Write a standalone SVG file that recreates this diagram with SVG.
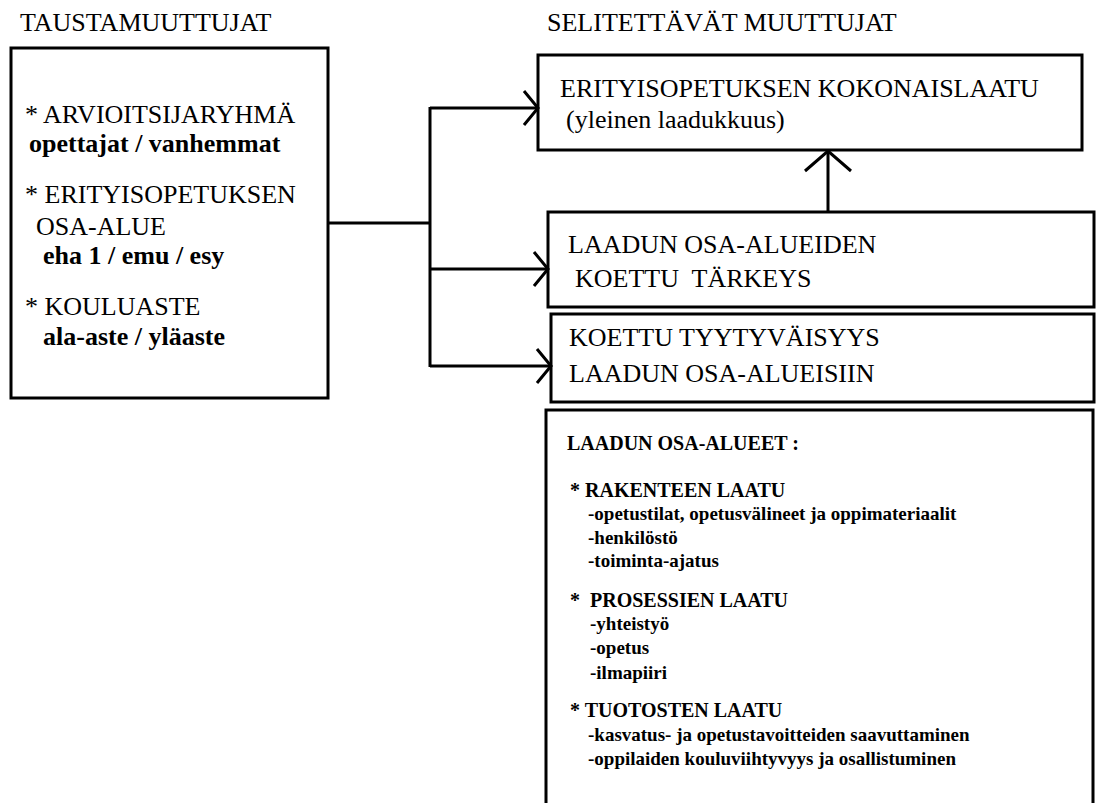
<svg xmlns="http://www.w3.org/2000/svg" width="1097" height="803" viewBox="0 0 1097 803">
  <defs>
    <marker id="vee" markerUnits="userSpaceOnUse" markerWidth="40" markerHeight="50" viewBox="-20 -25 40 50" refX="0" refY="0" orient="auto">
      <path d="M-14,-17 L0,0 L-14,17" fill="none" stroke="#000000" stroke-width="3"/>
    </marker>
    <marker id="vee-up" markerUnits="userSpaceOnUse" markerWidth="60" markerHeight="60" viewBox="-30 -30 60 60" refX="0" refY="0" orient="auto">
      <path d="M-20,-23 L0,0 L-20,23" fill="none" stroke="#000000" stroke-width="3"/>
    </marker>
  </defs>

  <rect width="1097" height="803" fill="#ffffff"/>

  <!-- column headings -->
  <text font-family="Times New Roman" font-size="26" x="20" y="31">TAUSTAMUUTTUJAT</text>
  <text font-family="Times New Roman" font-size="26" x="547" y="31">SELITETTÄVÄT MUUTTUJAT</text>

  <!-- background variables -->
  <g id="taustamuuttujat">
    <rect x="11" y="48" width="317" height="350" fill="#ffffff" stroke="#000000" stroke-width="3"/>
    <text font-family="Times New Roman" font-size="26" x="25" y="123">* ARVIOITSIJARYHMÄ</text>
    <text font-family="Times New Roman" font-size="26" font-weight="bold" x="29" y="152">opettajat / vanhemmat</text>
    <text font-family="Times New Roman" font-size="26" x="25" y="203">* ERITYISOPETUKSEN</text>
    <text font-family="Times New Roman" font-size="26" x="36" y="235">OSA-ALUE</text>
    <text font-family="Times New Roman" font-size="26" font-weight="bold" x="43" y="264">eha 1 / emu / esy</text>
    <text font-family="Times New Roman" font-size="26" x="25" y="315">* KOULUASTE</text>
    <text font-family="Times New Roman" font-size="26" font-weight="bold" x="43" y="345">ala-aste / yläaste</text>
  </g>

  <!-- overall quality -->
  <g id="kokonaislaatu">
    <rect x="538" y="55" width="544" height="95" fill="#ffffff" stroke="#000000" stroke-width="3"/>
    <text font-family="Times New Roman" font-size="26" x="560" y="97">ERITYISOPETUKSEN KOKONAISLAATU</text>
    <text font-family="Times New Roman" font-size="26" x="566" y="128">(yleinen laadukkuus)</text>
  </g>

  <!-- perceived importance -->
  <g id="tarkeys">
    <rect x="548" y="212" width="546" height="95" fill="#ffffff" stroke="#000000" stroke-width="3"/>
    <text font-family="Times New Roman" font-size="26" x="568" y="253">LAADUN OSA-ALUEIDEN</text>
    <text font-family="Times New Roman" font-size="26" x="575" y="287" xml:space="preserve">KOETTU  TÄRKEYS</text>
  </g>

  <!-- perceived satisfaction -->
  <g id="tyytyvaisyys">
    <rect x="551" y="314" width="543" height="88" fill="#ffffff" stroke="#000000" stroke-width="3"/>
    <text font-family="Times New Roman" font-size="26" x="569" y="346">KOETTU TYYTYVÄISYYS</text>
    <text font-family="Times New Roman" font-size="26" x="569" y="382">LAADUN OSA-ALUEISIIN</text>
  </g>

  <!-- quality sub-areas (box runs off the lower edge) -->
  <g id="osa-alueet">
    <path d="M546,815 V410 H1093 V815" fill="#ffffff" stroke="#000000" stroke-width="3"/>
    <text font-family="Times New Roman" font-size="20" font-weight="bold" x="567" y="450">LAADUN OSA-ALUEET :</text>
    <text font-family="Times New Roman" font-size="20" font-weight="bold" x="570" y="497">* RAKENTEEN LAATU</text>
    <text font-family="Times New Roman" font-size="19" font-weight="bold" x="588" y="520">-opetustilat, opetusvälineet ja oppimateriaalit</text>
    <text font-family="Times New Roman" font-size="19" font-weight="bold" x="588" y="544">-henkilöstö</text>
    <text font-family="Times New Roman" font-size="19" font-weight="bold" x="588" y="567">-toiminta-ajatus</text>
    <text font-family="Times New Roman" font-size="20" font-weight="bold" x="570" y="607" xml:space="preserve">*  PROSESSIEN LAATU</text>
    <text font-family="Times New Roman" font-size="19" font-weight="bold" x="590" y="630">-yhteistyö</text>
    <text font-family="Times New Roman" font-size="19" font-weight="bold" x="590" y="654">-opetus</text>
    <text font-family="Times New Roman" font-size="19" font-weight="bold" x="590" y="679">-ilmapiiri</text>
    <text font-family="Times New Roman" font-size="20" font-weight="bold" x="570" y="717">* TUOTOSTEN LAATU</text>
    <text font-family="Times New Roman" font-size="19" font-weight="bold" x="588" y="741">-kasvatus- ja opetustavoitteiden saavuttaminen</text>
    <text font-family="Times New Roman" font-size="19" font-weight="bold" x="588" y="765">-oppilaiden kouluviihtyvyys ja osallistuminen</text>
  </g>

  <!-- connectors -->
  <g id="connectors">
    <path d="M328,223 H430" fill="none" stroke="#000000" stroke-width="3"/>
    <path d="M430,107 V367" fill="none" stroke="#000000" stroke-width="3"/>
    <path d="M430,108 H538" fill="none" stroke="#000000" stroke-width="3" marker-end="url(#vee)"/>
    <path d="M430,269 H548" fill="none" stroke="#000000" stroke-width="3" marker-end="url(#vee)"/>
    <path d="M430,366 H551" fill="none" stroke="#000000" stroke-width="3" marker-end="url(#vee)"/>
    <path d="M828,212 V151" fill="none" stroke="#000000" stroke-width="3" marker-end="url(#vee-up)"/>
  </g>
</svg>
